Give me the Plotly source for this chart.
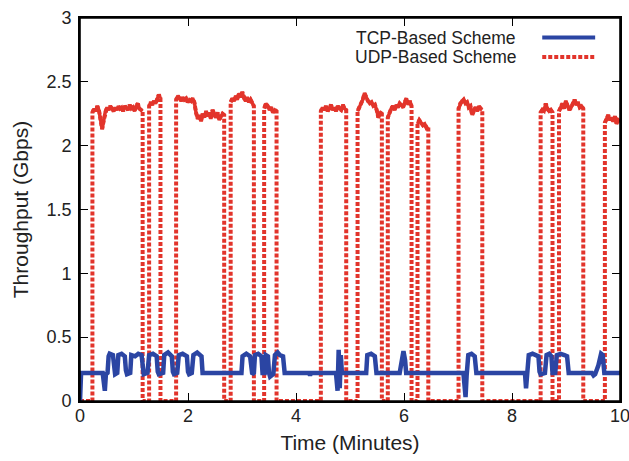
import numpy as np
import plotly.graph_objects as go

# ---------------- data ----------------
# UDP-based scheme: "on" periods (minutes) and the throughput samples (Gbps) read in each
udp_on_start = [0.23, 1.28, 1.78, 2.79, 3.41, 4.46, 5.14, 5.70, 6.25, 7.01, 8.53, 8.87, 9.72]
udp_on_end = [1.16, 1.49, 2.67, 3.22, 3.64, 4.93, 5.59, 6.14, 6.45, 7.45, 8.75, 9.32, 10.00]
udp_on_levels = [
    [2.26, 2.29, 2.27, 2.31, 2.28, 2.22, 2.13, 2.20, 2.27, 2.30, 2.28, 2.31, 2.29, 2.27, 2.30, 2.28,
     2.31, 2.29, 2.30, 2.27, 2.31, 2.29, 2.28, 2.32, 2.29, 2.30, 2.27, 2.31, 2.33, 2.29, 2.28, 2.27],
    [2.31, 2.34, 2.32, 2.35, 2.33, 2.36, 2.40, 2.37],
    [2.36, 2.39, 2.37, 2.35, 2.38, 2.36, 2.37, 2.34, 2.36, 2.35, 2.37, 2.34, 2.26, 2.21, 2.24,
     2.19, 2.25, 2.22, 2.27, 2.23, 2.26, 2.21, 2.28, 2.24, 2.22, 2.26, 2.20, 2.23, 2.25, 2.24],
    [2.34, 2.37, 2.35, 2.39, 2.36, 2.41, 2.38, 2.42, 2.37, 2.35, 2.38, 2.34, 2.36, 2.33, 2.31],
    [2.29, 2.33, 2.31, 2.28, 2.30, 2.26, 2.28, 2.27],
    [2.27, 2.30, 2.28, 2.31, 2.27, 2.29, 2.32, 2.28, 2.30, 2.27, 2.31, 2.29, 2.28, 2.32, 2.29, 2.28],
    [2.27, 2.30, 2.33, 2.36, 2.41, 2.37, 2.35, 2.33, 2.34, 2.31, 2.32, 2.28, 2.22, 2.25, 2.27],
    [2.22, 2.26, 2.29, 2.31, 2.28, 2.32, 2.30, 2.33, 2.31, 2.30, 2.34, 2.37, 2.32, 2.35, 2.31],
    [2.17, 2.20, 2.18, 2.16, 2.17, 2.14, 2.15],
    [2.29, 2.33, 2.35, 2.36, 2.33, 2.34, 2.30, 2.31, 2.24, 2.28, 2.30, 2.27, 2.31, 2.29, 2.28],
    [2.26, 2.28, 2.27, 2.33, 2.29, 2.27, 2.28, 2.26],
    [2.27, 2.30, 2.33, 2.29, 2.35, 2.31, 2.28, 2.30, 2.33, 2.36, 2.32, 2.34, 2.30, 2.31, 2.29],
    [2.18, 2.21, 2.24, 2.20, 2.22, 2.19, 2.23, 2.17, 2.20, 2.19],
]

# TCP-based scheme: time (minutes) and throughput (Gbps)
tcp_time = [0.00, 0.02, 0.42, 0.44, 0.46, 0.48, 0.51, 0.53, 0.55, 0.61, 0.63, 0.65, 0.69, 0.71, 0.77,
            0.83, 0.85, 0.87, 0.93, 0.95, 1.02, 1.08, 1.14, 1.16, 1.18, 1.25, 1.28, 1.35, 1.42, 1.44,
            1.46, 1.54, 1.56, 1.63, 1.70, 1.72, 1.74, 1.80, 1.83, 1.90, 1.98, 2.00, 2.02, 2.07, 2.10,
            2.17, 2.25, 2.27, 2.99, 3.01, 3.08, 3.15, 3.17, 3.19, 3.22, 3.24, 3.30, 3.36, 3.38, 3.42,
            3.44, 3.48, 3.50, 3.52, 3.58, 3.61, 3.66, 3.70, 3.76, 3.79, 4.24, 4.26, 4.28, 4.74, 4.77,
            4.79, 4.81, 4.83, 4.85, 5.30, 5.32, 5.39, 5.46, 5.49, 5.92, 5.96, 5.99, 6.02, 6.04, 7.10,
            7.12, 7.14, 7.16, 7.19, 7.25, 7.31, 7.34, 8.24, 8.26, 8.28, 8.31, 8.38, 8.49, 8.51, 8.53,
            8.61, 8.64, 8.69, 8.73, 8.75, 8.80, 8.83, 8.90, 8.97, 9.02, 9.05, 9.48, 9.51, 9.54, 9.60,
            9.65, 9.68, 9.71, 10.00]
tcp_gbps = [0.00, 0.22, 0.22, 0.14, 0.08, 0.21, 0.22, 0.35, 0.37, 0.36, 0.25, 0.21, 0.22, 0.36, 0.37,
            0.35, 0.24, 0.21, 0.22, 0.36, 0.35, 0.37, 0.36, 0.23, 0.21, 0.22, 0.36, 0.37, 0.35, 0.23,
            0.21, 0.22, 0.36, 0.38, 0.35, 0.23, 0.21, 0.22, 0.36, 0.37, 0.35, 0.23, 0.21, 0.22, 0.36,
            0.38, 0.35, 0.22, 0.22, 0.35, 0.37, 0.35, 0.23, 0.21, 0.22, 0.36, 0.37, 0.35, 0.22, 0.22,
            0.36, 0.35, 0.22, 0.19, 0.21, 0.36, 0.38, 0.36, 0.35, 0.22, 0.22, 0.20, 0.22, 0.22, 0.08,
            0.40, 0.10, 0.36, 0.22, 0.22, 0.36, 0.37, 0.35, 0.22, 0.22, 0.30, 0.39, 0.32, 0.22, 0.22,
            0.10, 0.03, 0.20, 0.36, 0.37, 0.35, 0.22, 0.22, 0.10, 0.18, 0.36, 0.37, 0.35, 0.23, 0.21,
            0.22, 0.36, 0.37, 0.35, 0.22, 0.22, 0.36, 0.37, 0.36, 0.35, 0.22, 0.22, 0.20, 0.21, 0.28,
            0.37, 0.36, 0.22, 0.22]

x_ticks = [0, 2, 4, 6, 8, 10]
y_ticks = [0, 0.5, 1, 1.5, 2, 2.5, 3]
y_tick_text = ["0", "0.5", "1", "1.5", "2", "2.5", "3"]
series_names = ["TCP-Based Scheme", "UDP-Based Scheme"]

# ---------------- build UDP series (zero between on periods) ----------------
udp_t, udp_v = [0.0], [0.0]
plat_t, plat_v = [], []
for s, e, lv in zip(udp_on_start, udp_on_end, udp_on_levels):
    ts = np.linspace(s, e, len(lv)).tolist()
    udp_t += [s] + ts
    udp_v += [0.0] + lv
    if e < 10:
        udp_t.append(e)
        udp_v.append(0.0)
    plat_t += ts + [None]
    plat_v += lv + [None]

BLUE = "#2b45a3"
RED = "#e2342b"
FONT = "Liberation Sans, Arial, Helvetica, sans-serif"
DASH = "4px,2px"

fig = go.Figure()
fig.add_trace(go.Scatter(x=udp_t, y=udp_v, mode="lines", name=series_names[1],
                         line=dict(color=RED, width=4, dash=DASH), showlegend=False))
fig.add_trace(go.Scatter(x=plat_t, y=plat_v, mode="lines", name=series_names[1] + " (on)",
                         line=dict(color=RED, width=3.5), showlegend=False, hoverinfo="skip"))
fig.add_trace(go.Scatter(x=tcp_time, y=tcp_gbps, mode="lines", name=series_names[0],
                         line=dict(color=BLUE, width=4.5), showlegend=False))

# gnuplot-style key (text left, sample right)
key_rows = [(0.949, BLUE, "solid"), (0.898, RED, DASH)]
for name, (ky, col, dsh) in zip(series_names, key_rows):
    fig.add_annotation(xref="paper", yref="paper", x=0.812, y=ky, text=name, showarrow=False,
                       xanchor="right", yanchor="middle", font=dict(size=17.5, color="#222", family=FONT))
    fig.add_shape(type="line", xref="paper", yref="paper", x0=0.856, x1=0.954, y0=ky, y1=ky,
                  line=dict(color=col, width=4, dash=dsh))

# plot frame (border box)
fig.add_shape(type="rect", xref="paper", yref="paper", x0=0, x1=1, y0=0, y1=1,
              line=dict(color="black", width=1.6), layer="above")

axis_common = dict(showline=True, linecolor="black", linewidth=1.6, mirror="ticks",
                   ticks="inside", ticklen=8, tickwidth=1.3, tickcolor="black",
                   showgrid=False, zeroline=False, automargin=False,
                   ticklabeloverflow="allow",
                   tickfont=dict(size=18, color="#222", family=FONT))

fig.update_layout(
    width=629, height=461,
    margin=dict(l=80, r=9, t=18, b=60),
    paper_bgcolor="white", plot_bgcolor="white",
    font=dict(family=FONT, color="#222"),
    xaxis=dict(range=[0, 10], tickvals=x_ticks, ticktext=[str(v) for v in x_ticks],
               ticklabelstandoff=-2,
               title=dict(text="Time (Minutes)", font=dict(size=21, family=FONT), standoff=10),
               **axis_common),
    yaxis=dict(range=[0, 3], tickvals=y_ticks, ticktext=y_tick_text,
               ticklabelstandoff=3,
               title=dict(text="Throughput (Gbps)", font=dict(size=21, family=FONT), standoff=12),
               **axis_common),
)

# remove the default page margin / scrollbars so the figure fills the window exactly
page_css = ("document.body.style.margin='0';"
            "document.body.style.overflow='hidden';"
            "document.documentElement.style.overflow='hidden';")
fig.write_html("out.html", post_script=page_css, config={"displayModeBar": False})
